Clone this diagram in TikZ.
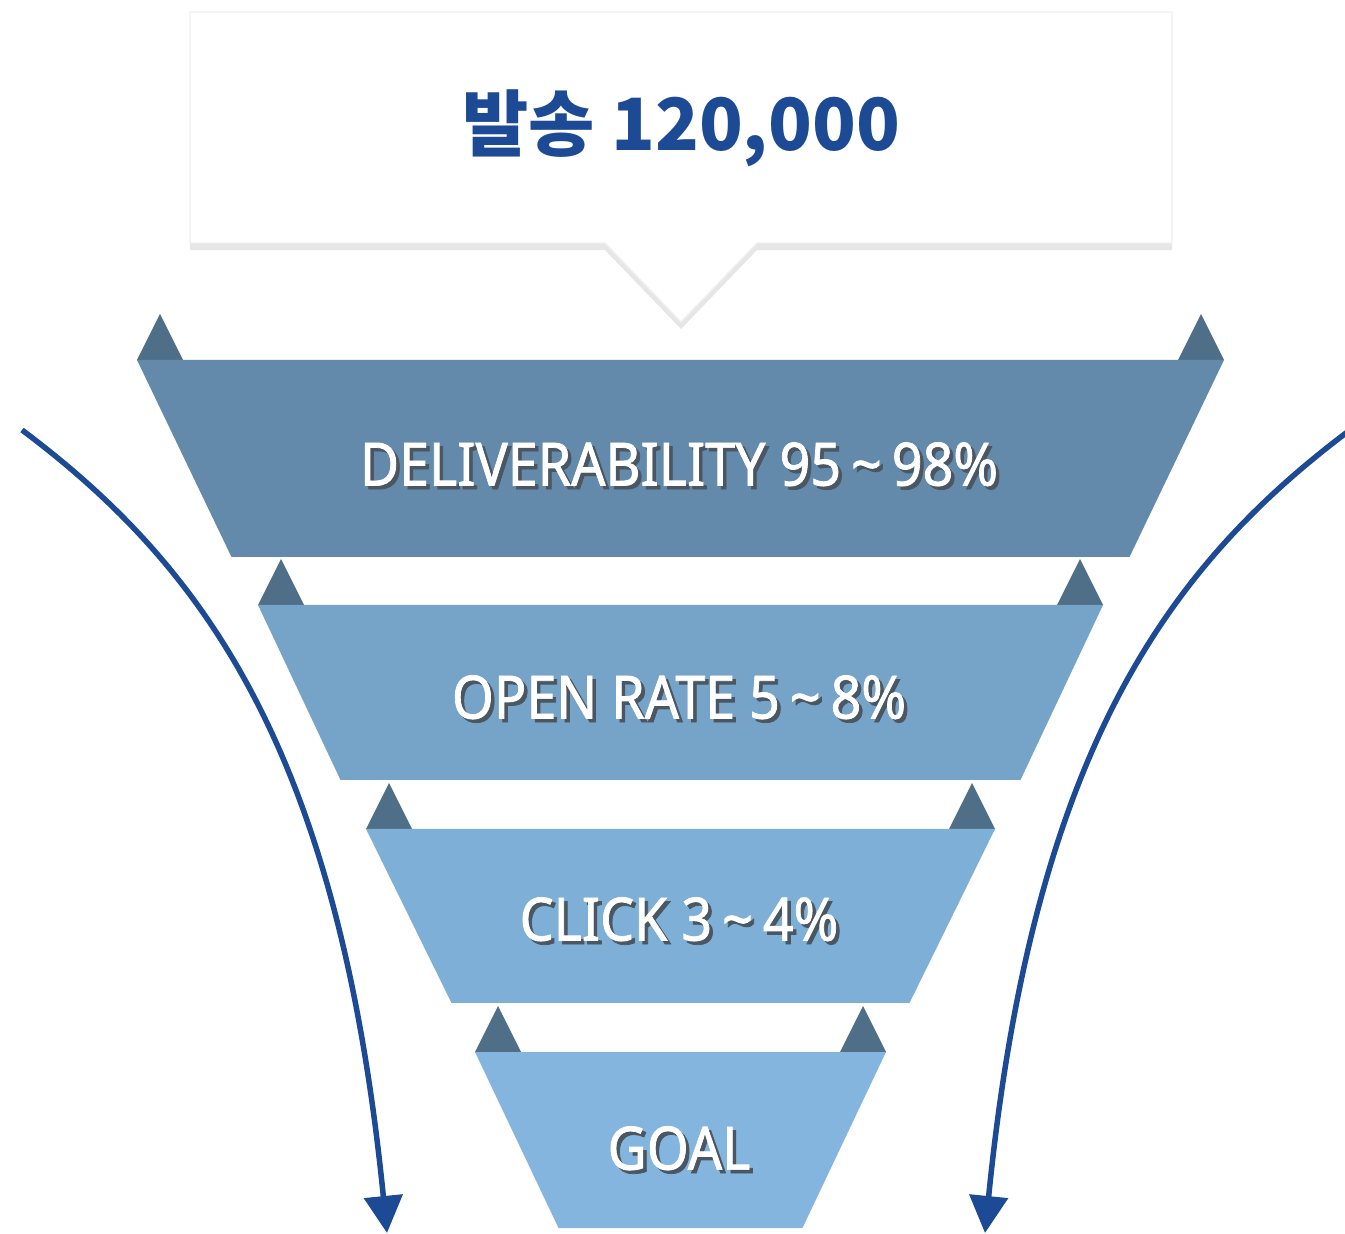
\documentclass[tikz,border=0pt]{standalone}
\usepackage{fontspec}
\usepackage{tikz}
\usetikzlibrary{shadows,arrows.meta}
\setmainfont{Noto Sans}
\newfontfamily\krfont{Noto Sans CJK KR}
\newfontfamily\labelfont[FakeStretch=0.9,FakeBold=1.2]{Noto Sans}

\definecolor{bandA}{HTML}{6389AB}
\definecolor{bandB}{HTML}{76A3C8}
\definecolor{bandC}{HTML}{7EAFD6}
\definecolor{bandD}{HTML}{84B5DF}
\definecolor{tabgray}{HTML}{4F6E88}
\definecolor{navy}{HTML}{1C4A94}
\definecolor{shadowgray}{HTML}{4A5762}

\newcommand{\shtext}[1]{\makebox[0pt][l]{\hspace{1pt}\raisebox{-1pt}{\color{shadowgray}#1}}#1}

\tikzset{
  bandlabel/.style={text=white,inner sep=0pt,font=\labelfont\fontsize{17}{20}\selectfont},
  flowarrow/.style={draw=navy,line width=0.55mm,-{Triangle[width=3.8mm,length=3.7mm]}}
}

\begin{document}
\begin{tikzpicture}[x=0.01cm,y=-0.01cm]
        \useasboundingbox (0,0) rectangle (1345,1234);

        % callout box
        \filldraw[fill=white,draw=black!6,drop shadow={shadow xshift=0pt,shadow yshift=-2pt,opacity=0.2}]
            (190,12) -- (1172,12) -- (1172,243) -- (757,243) -- (681,322) -- (605,243) -- (190,243) -- cycle;
        \draw node[text=navy,font=\krfont\bfseries\fontsize{20.5}{25}\selectfont] (total) at (681,128) {발송 120,000};

        % funnel bands with their tabs
        \foreach \yt/\yb/\wt/\wb/\clr in {360/557/543.5/449/bandA,605/780/422.5/340/bandB,829/1003/314.5/229/bandC,1052/1228/205.5/122/bandD}{
            \fill[tabgray] (680.5-\wt,\yt) -- (680.5-\wt+23,\yt-46) -- (680.5-\wt+46,\yt) -- cycle;
            \fill[tabgray] (680.5+\wt,\yt) -- (680.5+\wt-23,\yt-46) -- (680.5+\wt-46,\yt) -- cycle;
            \fill[\clr] (680.5-\wt,\yt) -- (680.5+\wt,\yt) -- (680.5+\wb,\yb) -- (680.5-\wb,\yb) -- cycle;
        }

        \draw node[bandlabel] (deliv) at (679,466) {\shtext{DELIVERABILITY 95\,\textasciitilde\,98\%}};
        \draw node[bandlabel] (open) at (679,699) {\shtext{OPEN RATE 5\,\textasciitilde\,8\%}};
        \draw node[bandlabel] (click) at (679,921) {\shtext{CLICK 3\,\textasciitilde\,4\%}};
        \draw node[bandlabel] (goal) at (679,1150) {\shtext{GOAL}};

        % side arrows
        \coordinate (lstart) at (22,430);
        \coordinate (lend) at (387,1233);
        \coordinate (rstart) at (1350,430);
        \coordinate (rend) at (985,1233);
        \draw[flowarrow] (lstart) .. controls (206,568) and (339,753) .. (lend);
        \draw[flowarrow] (rstart) .. controls (1166,568) and (1033,753) .. (rend);
\end{tikzpicture}
\end{document}
